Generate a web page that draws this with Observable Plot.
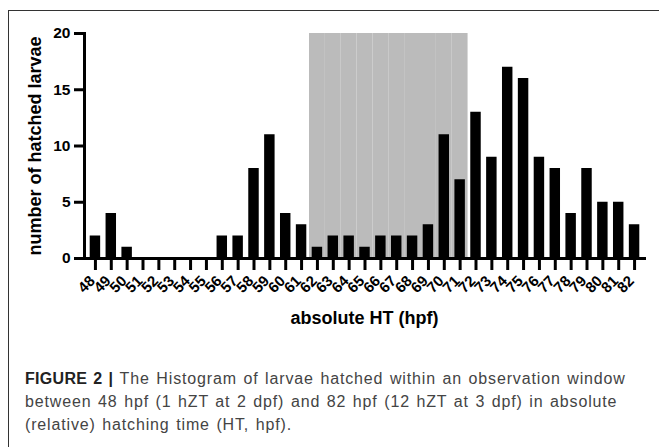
<!DOCTYPE html>
<html>
<head>
<meta charset="utf-8">
<script src="https://cdn.jsdelivr.net/npm/d3@7"></script>
<script src="https://cdn.jsdelivr.net/npm/@observablehq/plot@0.6"></script>
<style>
  html, body { margin: 0; padding: 0; background: #fff; }
  #wrap { position: relative; width: 659px; height: 447px; overflow: hidden; font-family: "Liberation Sans", Arial, sans-serif; }
  #chart { position: absolute; left: 0; top: 0; }
  #border { position: absolute; left: 8px; top: 10px; width: 660px; height: 440px; border-left: 1px solid #333; border-top: 1px solid #333; pointer-events: none; }
  #caption { position: absolute; left: 25px; top: 367px; width: 634px; font-size: 16px; line-height: 23px; color: #444; letter-spacing: 0.85px; word-spacing: 1.3px; white-space: nowrap; }
  #caption b { color: #222; letter-spacing: 0.3px; }
</style>
</head>
<body>
<div id="wrap">
  <div id="chart"></div>
  <div id="border"></div>
  <div id="caption"><b>FIGURE 2 |</b> The Histogram of larvae hatched within an observation window<br>between 48 hpf (1 hZT at 2 dpf) and 82 hpf (12 hZT at 3 dpf) in absolute<br>(relative) hatching time (HT, hpf).</div>
</div>
<script>
const hours = ["48","49","50","51","52","53","54","55","56","57","58","59","60","61","62","63","64","65","66","67","68","69","70","71","72","73","74","75","76","77","78","79","80","81","82"];
const counts = [2,4,1,0,0,0,0,0,2,2,8,11,4,3,1,2,2,1,2,2,2,3,11,7,13,9,17,16,9,8,4,8,5,5,3];
const windowHours = ["62","63","64","65","66","67","68","69","70","71"];
const windowTop = 20;
const yTicks = [0,5,10,15,20];
const xLabel = "absolute HT (hpf)";
const yLabel = "number of hatched larvae";

const data = hours.map((h, i) => ({hour: h, count: counts[i]}));
const shade = windowHours.map(h => ({hour: h, top: windowTop}));

const chart = Plot.plot({
  width: 659,
  height: 340,
  marginLeft: 84,
  marginRight: 15,
  marginTop: 33,
  marginBottom: 82,
  style: {background: "transparent", fontFamily: "Liberation Sans, Arial, sans-serif"},
  x: {type: "band", domain: hours, padding: 0, insetLeft: 3, insetRight: 2, axis: null},
  y: {domain: [0, 20], axis: null},
  marks: [
    Plot.barY(shade, {x: "hour", y: "top", fill: "#bbbbbb"}),
    Plot.barY(data, {x: "hour", y: "count", fill: "#000", insetLeft: 2.7, insetRight: 2.7}),
    Plot.axisY({ticks: yTicks, tickSize: 10, tickPadding: 4, strokeWidth: 3, fontSize: 15.5, fontWeight: "bold", fill: "#000", label: null}),
    Plot.axisX({tickSize: 12, tickFormat: () => "", strokeWidth: 3, label: null}),
    Plot.axisX({tickSize: 0, tickPadding: 20, dx: -3, tickRotate: -45, fontSize: 15, fontWeight: "bold", fill: "#000", label: null}),
    Plot.frame({anchor: "left", strokeWidth: 3, stroke: "#000"}),
    Plot.frame({anchor: "bottom", strokeWidth: 3, stroke: "#000"}),
    Plot.text([yLabel], {frameAnchor: "left", textAnchor: "middle", rotate: -90, dx: -49, fontSize: 18, fontWeight: "bold", fill: "#000"}),
    Plot.text([xLabel], {frameAnchor: "bottom", dy: 65, fontSize: 18, fontWeight: "bold", fill: "#000"})
  ]
});
document.getElementById("chart").appendChild(chart);
</script>
</body>
</html>
